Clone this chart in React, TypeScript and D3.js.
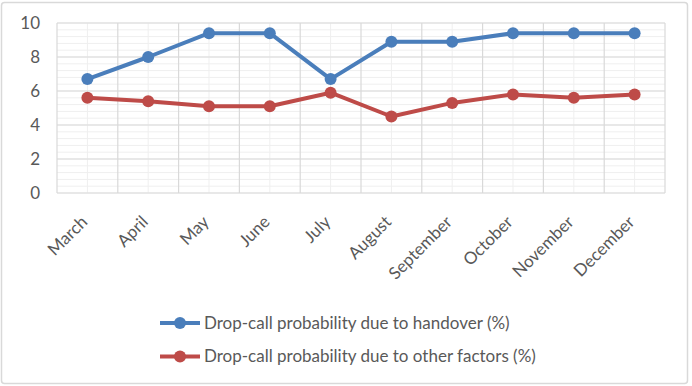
import React from "react";
import * as d3 from "d3";

const months = ["March", "April", "May", "June", "July", "August", "September", "October", "November", "December"];
const handover = [6.7, 8.0, 9.4, 9.4, 6.7, 8.9, 8.9, 9.4, 9.4, 9.4];
const otherFactors = [5.6, 5.4, 5.1, 5.1, 5.9, 4.5, 5.3, 5.8, 5.6, 5.8];
const yTicks = [0, 2, 4, 6, 8, 10];
const seriesNames = ["Drop-call probability due to handover (%)", "Drop-call probability due to other factors (%)"];
const seriesColors = ["#4A7EBB", "#BE4B48"];

const W = 692, H = 386;
const M = { left: 57, right: 665, top: 23, bottom: 193 };
const FONT = "Lato, 'Open Sans', sans-serif";
const TEXT = "#595959";

export default function App() {
  const x = d3.scaleBand<string>().domain(months).range([M.left, M.right]);
  const y = d3.scaleLinear().domain([0, 10]).range([M.bottom, M.top]);
  const cx = (m: string) => (x(m) as number) + x.bandwidth() / 2;
  const minorY = d3.range(0, 10.001, 0.4);
  const line = d3.line<number>().x((_, i) => cx(months[i])).y((d) => y(d));
  const series = [handover, otherFactors];

  return (
    <div style={{ position: "fixed", left: 0, top: 0, width: W, height: H, background: "#fff" }}>
      <svg width={W} height={H} style={{ display: "block" }}>
        <rect x={1.5} y={2.5} width={W - 6} height={H - 5} rx={3} fill="#fff" stroke="#d9d9d9" strokeWidth={1.5} />
        {minorY.map((v, i) => (
          <line key={"mh" + i} x1={M.left} x2={M.right} y1={y(v)} y2={y(v)} stroke="#efefef" strokeWidth={1} />
        ))}
        {months.map((m) => (
          <line key={"mv" + m} x1={cx(m)} x2={cx(m)} y1={M.top} y2={M.bottom} stroke="#efefef" strokeWidth={1} />
        ))}
        {yTicks.map((v) => (
          <line key={"h" + v} x1={M.left} x2={M.right} y1={y(v)} y2={y(v)} stroke="#d9d9d9" strokeWidth={1.2} />
        ))}
        {months.map((m) => (
          <line key={"v" + m} x1={x(m) as number} x2={x(m) as number} y1={M.top} y2={M.bottom} stroke="#d9d9d9" strokeWidth={1.2} />
        ))}
        <line x1={M.right} x2={M.right} y1={M.top} y2={M.bottom} stroke="#d9d9d9" strokeWidth={1.2} />
        {yTicks.map((v) => (
          <text key={"yl" + v} x={40} y={y(v)} dy="0.35em" textAnchor="end" fontFamily={FONT} fontSize={17} fill={TEXT}>
            {v}
          </text>
        ))}
        {months.map((m) => {
          const px = cx(m) + 1;
          const py = 223;
          return (
            <text key={"xl" + m} x={px} y={py} textAnchor="end" transform={`rotate(-45 ${px} ${py})`} fontFamily={FONT} fontSize={17} fill={TEXT}>
              {m}
            </text>
          );
        })}
        {series.map((s, si) => (
          <g key={"s" + si}>
            <path d={line(s) as string} fill="none" stroke={seriesColors[si]} strokeWidth={4} strokeLinejoin="round" />
            {s.map((v, i) => (
              <circle key={i} cx={cx(months[i])} cy={y(v)} r={6} fill={seriesColors[si]} />
            ))}
          </g>
        ))}
        {seriesNames.map((name, i) => {
          const ly = 323 + i * 33.5;
          return (
            <g key={"lg" + i}>
              <line x1={160} x2={200} y1={ly} y2={ly} stroke={seriesColors[i]} strokeWidth={4} />
              <circle cx={180} cy={ly} r={6} fill={seriesColors[i]} />
              <text x={204} y={ly} dy="0.35em" fontFamily={FONT} fontSize={17} fill={TEXT}>
                {name}
              </text>
            </g>
          );
        })}
      </svg>
    </div>
  );
}
